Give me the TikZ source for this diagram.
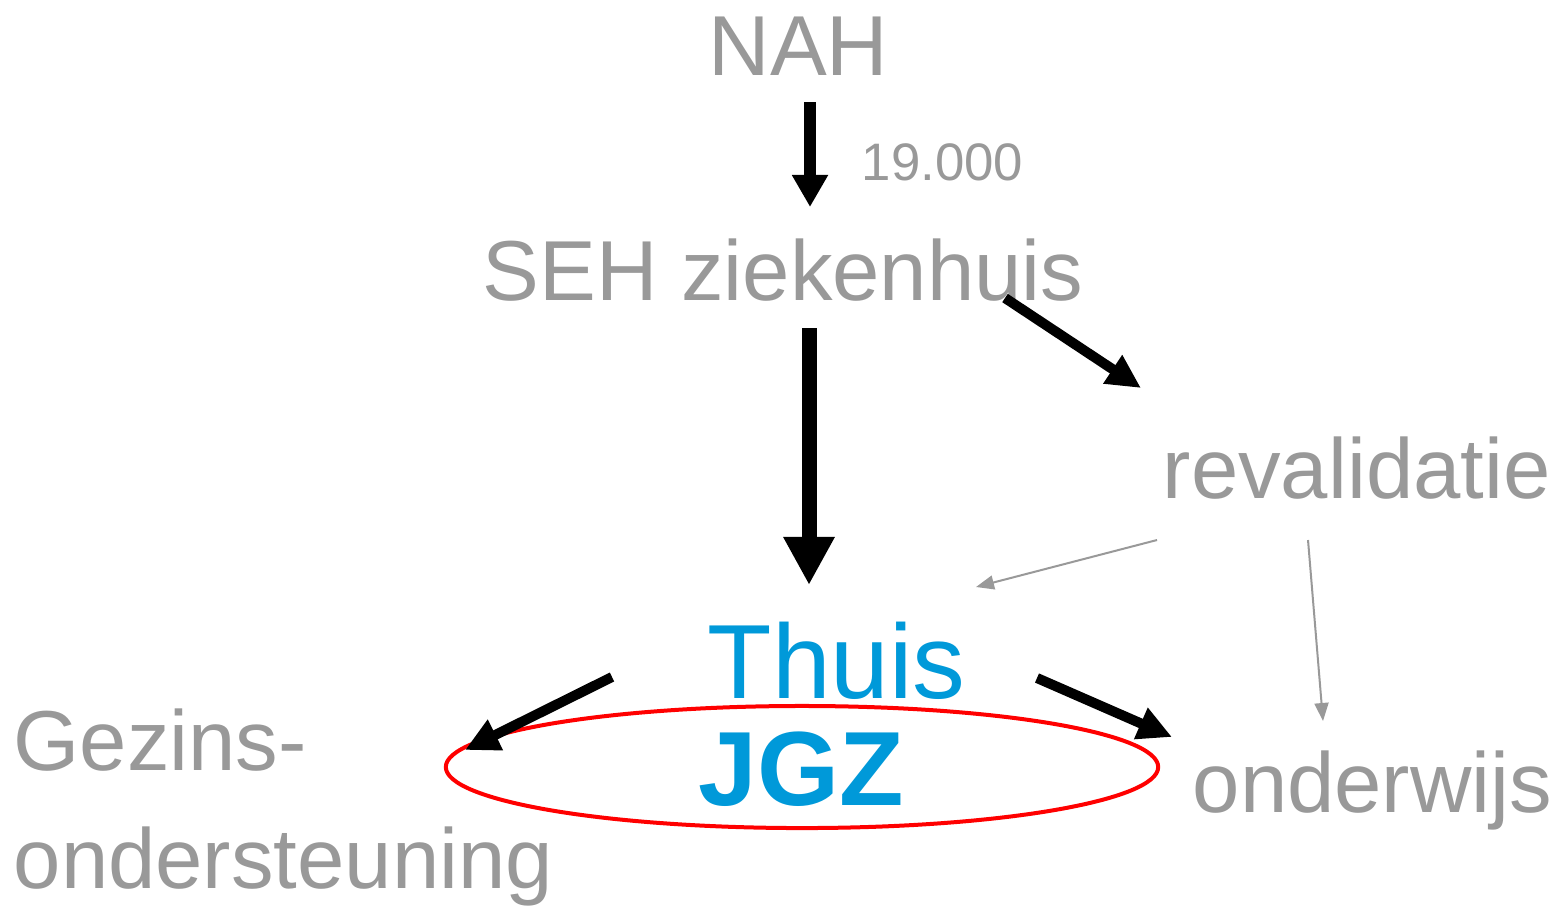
\documentclass[tikz,border=0pt]{standalone}
\usepackage{fontspec}
\setmainfont{Liberation Sans}
\usetikzlibrary{arrows.meta,shapes.geometric}
\definecolor{txtgrey}{HTML}{999999}
\definecolor{jgzblue}{HTML}{0099D9}
\definecolor{ringred}{HTML}{FF0000}
\tikzset{
  lbl/.style={anchor=base west, inner sep=0pt, text=txtgrey, font=\fontsize{24.2pt}{28pt}\selectfont},
  smalllbl/.style={anchor=base west, inner sep=0pt, text=txtgrey, font=\fontsize{15pt}{18pt}\selectfont},
  bluelbl/.style={anchor=base west, inner sep=0pt, text=jgzblue, font=\fontsize{30pt}{34pt}\selectfont},
  bigarrow/.style={line width=0.12cm, -{Triangle[length=0.32cm,width=0.34cm]}},
  hugearrow/.style={line width=0.15cm, -{Triangle[length=0.48cm,width=0.48cm]}},
  midarrow/.style={line width=0.1cm, -{Triangle[length=0.34cm,width=0.32cm]}},
  thinarrow/.style={draw=txtgrey, line width=0.02cm, -{Triangle[length=0.18cm,width=0.14cm]}, txtgrey}
}
\begin{document}
\begin{tikzpicture}[x=0.01cm,y=-0.01cm]
\useasboundingbox (0,0) rectangle (1558,908);
% labels
\node[lbl] (nah) at (708,75) {NAH};
\node[smalllbl] (num) at (861,180) {19.000};
\node[lbl] (seh) at (482,300) {SEH ziekenhuis};
\node[lbl] (rev) at (1162,498) {revalidatie};
\node[bluelbl] (thuis) at (707,698) {Thuis};
\node[bluelbl, font=\fontsize{30pt}{34pt}\selectfont\bfseries] (jgz) at (698,805) {JGZ};
\node[lbl] (gez) at (13,770) {Gezins-};
\node[lbl] (ond) at (13,888) {ondersteuning};
\node[lbl] (onw) at (1192,812) {onderwijs};
% ring
\node[draw=ringred, line width=0.04cm, ellipse, minimum width=7.12cm, minimum height=1.22cm, inner sep=0pt] (ring) at (802,767) {};
% connector ends
\coordinate (a1s) at (810,102);
\coordinate (a1e) at (810,207);
\coordinate (a2s) at (809,328);
\coordinate (a2e) at (809,585);
\coordinate (a3s) at (1005,298);
\coordinate (a3e) at (1141,388);
\coordinate (a4s) at (612,677);
\coordinate (a4e) at (465,750);
\coordinate (a5s) at (1037,678);
\coordinate (a5e) at (1172,737);
\coordinate (a6s) at (1157,540);
\coordinate (a6e) at (976,587);
\coordinate (a7s) at (1308,540);
\coordinate (a7e) at (1323,721);
% connectors
\draw[bigarrow] (a1s) -- (a1e);
\draw[hugearrow] (a2s) -- (a2e);
\draw[midarrow] (a3s) -- (a3e);
\draw[midarrow] (a4s) -- (a4e);
\draw[midarrow] (a5s) -- (a5e);
\draw[thinarrow] (a6s) -- (a6e);
\draw[thinarrow] (a7s) -- (a7e);
\end{tikzpicture}
\end{document}
